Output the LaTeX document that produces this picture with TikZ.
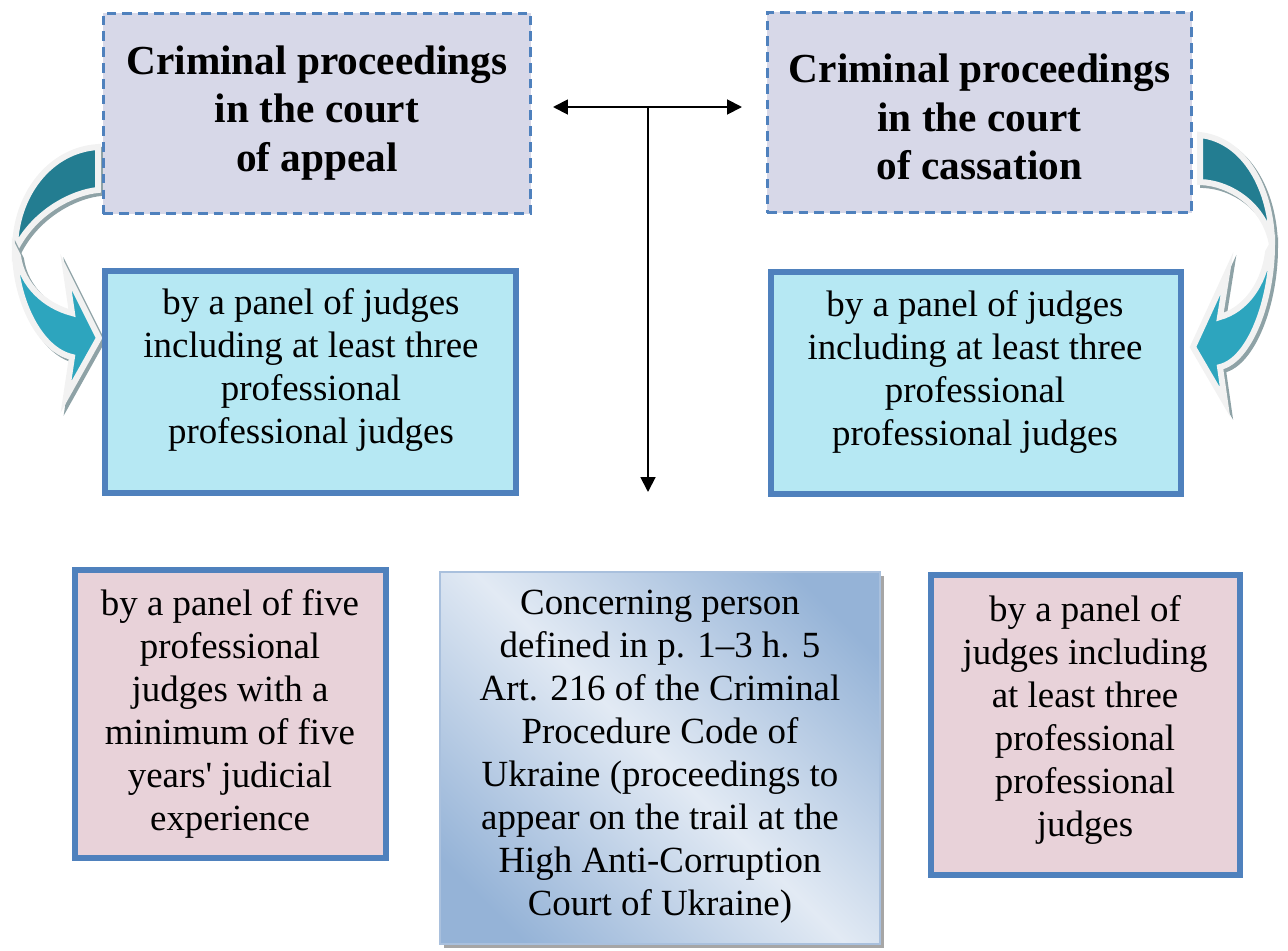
\documentclass[tikz,border=0pt]{standalone}
\usepackage{fontspec}
\setmainfont{Liberation Serif}
\usetikzlibrary{arrows.meta,calc,shadows}

\definecolor{titlefill}{HTML}{D7D8E8}
\definecolor{boxblue}{HTML}{4F81BD}
\definecolor{panelcyan}{HTML}{B6E8F3}
\definecolor{panelpink}{HTML}{E8D2D9}
\definecolor{curvedark}{HTML}{237D91}
\definecolor{curvelight}{HTML}{2DA5BE}
\definecolor{curveedge}{HTML}{F2F2F2}
\definecolor{curveshadow}{HTML}{8EA2A6}
\definecolor{notedark}{HTML}{95B3D7}
\definecolor{notelight}{HTML}{E2EAF4}
\definecolor{noteedge}{HTML}{A9C0DD}

% diagonal band: dark at both corners of the axis, light in the middle
\pgfdeclarehorizontalshading{noteband}{100bp}{color(0bp)=(notedark); color(22bp)=(notedark); color(50bp)=(notelight); color(78bp)=(notedark); color(100bp)=(notedark)}

\tikzset{
  titlebox/.style={draw=boxblue, line width=1.7pt, dash pattern=on 5.5pt off 3.5pt,
    fill=titlefill, rectangle, inner sep=0pt},
  panelbox/.style={draw=boxblue, line width=3.4pt, rectangle, inner sep=0pt},
  titletext/.style={align=center, font=\bfseries\fontsize{23.5}{27.6}\selectfont, inner sep=0pt},
  paneltext/.style={align=center, font=\fontsize{21}{24.5}\selectfont, inner sep=0pt},
  link/.style={line width=1.1pt, {Triangle[length=8.5pt,width=8.5pt]}-{Triangle[length=8.5pt,width=8.5pt]}},
  downlink/.style={line width=1.1pt, -{Triangle[length=8.5pt,width=8.5pt]}},
  curveback/.style={fill=curvedark, draw=curveedge, line width=3.4pt, line join=miter},
  curvefront/.style={fill=curvelight, draw=curveedge, line width=3.4pt, line join=miter},
  curveshade/.style={fill=curveshadow, draw=curveshadow, line width=3.4pt, shift={(3,3)}},
  % curved arrow on the left side
  leftback/.style={insert path={(98,147) .. controls (50,150) and (15,195) .. (15,250)
      .. controls (35,210) and (75,192) .. (98,190) -- cycle}},
  leftfront/.style={insert path={(15,250) .. controls (15,300) and (40,350) .. (72,357)
      -- (66,397) -- (99,338) -- (66,272) -- (72,313)
      .. controls (45,306) and (22,285) .. (18,256) -- cycle}},
  % curved arrow on the right side
  rightback/.style={insert path={(1200,135) .. controls (1245,140) and (1272,190) .. (1272,245)
      .. controls (1265,205) and (1230,183) .. (1200,182) -- cycle}},
  rightfront/.style={insert path={(1272,245) .. controls (1272,300) and (1250,360) .. (1220,367)
      -- (1225,402) -- (1193,347) -- (1227,273) -- (1220,317)
      .. controls (1245,310) and (1264,285) .. (1268,252) -- cycle}},
}

\begin{document}
\begin{tikzpicture}[x=0.02cm, y=-0.02cm]
\useasboundingbox (0,0) rectangle (1288,950);

% curved arrows (drawn first so the title boxes overlap their tails)
\path[curveshade, leftback];
\path[curveback, leftback];
\path[curveshade, leftfront];
\path[curvefront, leftfront];
\path[curveshade, rightback];
\path[curveback, rightback];
\path[curveshade, rightfront];
\path[curvefront, rightfront];

% title boxes
\node[titlebox, minimum width=8.56cm, minimum height=4.02cm] (appeal) at (317,113.5) {};
\node[titletext] (appealtext) at (317,113) {Criminal proceedings\\in the court\\of appeal};
\node[titlebox, minimum width=8.5cm, minimum height=4.02cm] (cassation) at (979.5,112.5) {};
\node[titletext] (cassationtext) at (979.5,117) {Criminal proceedings\\in the court\\of cassation};

% panels under the title boxes
\node[panelbox, fill=panelcyan, minimum width=8.22cm, minimum height=4.44cm] (appealpanel) at (310.5,382) {};
\node[paneltext] (appealpaneltext) at (311,370) {by a panel of judges\\including at least three\\professional\\professional judges};
\node[panelbox, fill=panelcyan, minimum width=8.2cm, minimum height=4.44cm] (cassationpanel) at (976,383) {};
\node[paneltext] (cassationpaneltext) at (975,372) {by a panel of judges\\including at least three\\professional\\professional judges};

% bottom row
\node[panelbox, fill=panelpink, minimum width=6.22cm, minimum height=5.76cm] (fivejudges) at (230.5,714) {};
\node[paneltext] (fivejudgestext) at (230,714) {by a panel of five\\professional\\judges with a\\minimum of five\\years\textquotesingle{} judicial\\experience};
\node[panelbox, fill=panelpink, minimum width=6.18cm, minimum height=6.0cm] (threejudges) at (1085.5,725) {};
\node[paneltext] (threejudgestext) at (1085,720) {by a panel of\\judges including\\at least three\\professional\\professional\\judges};

\node[rectangle, draw=noteedge, line width=1.2pt, shading=noteband, shading angle=45,
  minimum width=8.8cm, minimum height=7.44cm, inner sep=0pt,
  drop shadow={shadow xshift=2.2pt, shadow yshift=-2.2pt, fill=black!35, opacity=1}]
  (hacc) at (660,758) {};
\node[paneltext] (hacctext) at (660,757) {Concerning person\\defined in p. 1--3 h. 5\\Art. 216 of the Criminal\\Procedure Code of\\Ukraine (proceedings to\\appear on the trail at the\\High Anti-Corruption\\Court of Ukraine)};

% connectors between the two courts and downwards
\coordinate (linkleft) at (553,107);
\coordinate (linkright) at (742,107);
\coordinate (linkmid) at (648,107);
\coordinate (linkdown) at (648,492);
\draw[link] (linkleft) -- (linkright);
\draw[downlink] (linkmid) -- (linkdown);
\end{tikzpicture}
\end{document}
